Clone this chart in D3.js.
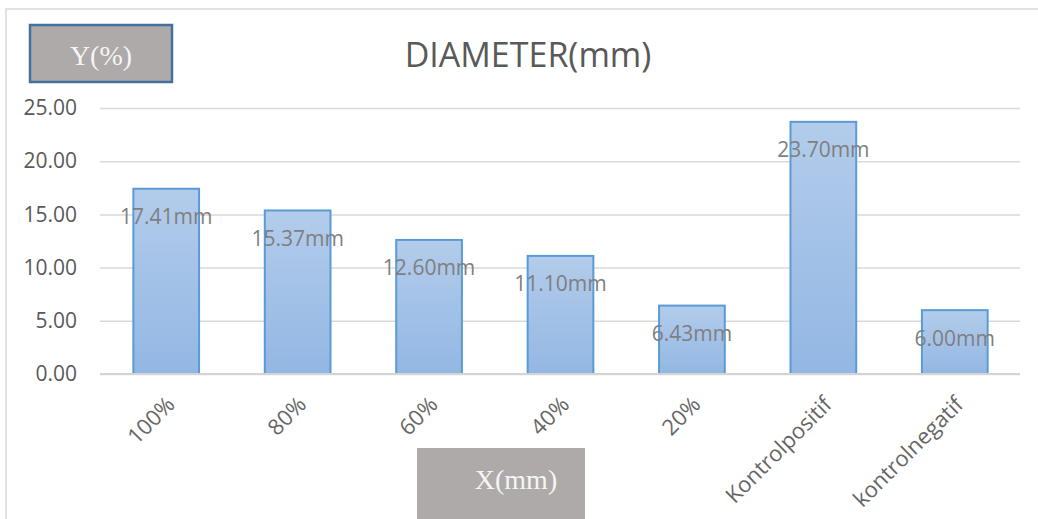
<!DOCTYPE html>
<html><head><meta charset="utf-8">
<script src="https://cdn.jsdelivr.net/npm/d3@7"></script>
<style>html,body{margin:0;padding:0;background:#fff;overflow:hidden}</style>
</head><body>
<svg id="c" width="1038" height="519"></svg>
<script>
const categories = ["100%","80%","60%","40%","20%","Kontrolpositif","kontrolnegatif"];
const values = [17.41, 15.37, 12.60, 11.10, 6.43, 23.70, 6.00];
const yTicks = [0, 5, 10, 15, 20, 25];
const title = "DIAMETER(mm)";
const yTitle = "Y(%)";
const xTitle = "X(mm)";

const svg = d3.select("#c");
const font = "'Open Sans', sans-serif";

// outer chart frame
svg.append("rect").attr("x",6).attr("y",9).attr("width",1045).attr("height",520)
  .attr("fill","#fff").attr("stroke","#d9d9d9").attr("stroke-width",1.5);

const x = d3.scaleBand().domain(categories).range([100.5, 1020.5]).paddingInner(0.5).paddingOuter(0.25);
const y = d3.scaleLinear().domain([0, 25]).range([374, 108]);

// gradient
const defs = svg.append("defs");
const g = defs.append("linearGradient").attr("id","bg").attr("x1",0).attr("y1",0).attr("x2",0).attr("y2",1);
g.append("stop").attr("offset","0%").attr("stop-color","#b3cceb");
g.append("stop").attr("offset","100%").attr("stop-color","#93b7e3");

// gridlines
const yAxis = d3.axisLeft(y).tickValues(yTicks).tickFormat(d3.format(".2f")).tickSize(-920).tickPadding(23);
const ga = svg.append("g").attr("transform","translate(100,0)").call(yAxis);
ga.select(".domain").remove();
ga.selectAll(".tick line").attr("stroke","#d9d9d9").attr("stroke-width",1.5);
ga.selectAll(".tick text").attr("fill","#595959").style("font-family",font).style("font-size","21px");

// bars
svg.append("g").selectAll("rect").data(values).join("rect")
  .attr("x",(d,i)=>x(categories[i]))
  .attr("y",d=>y(d))
  .attr("width",x.bandwidth())
  .attr("height",d=>y(0)-y(d))
  .attr("fill","url(#bg)")
  .attr("stroke","#5b9bd5").attr("stroke-width",2);

// x axis line
const xAxis = d3.axisBottom(x).tickSize(0).tickPadding(0);
const gx = svg.append("g").attr("transform","translate(0,374)").call(xAxis);
gx.select(".domain").attr("stroke","#d4d4d4").attr("stroke-width",2).attr("d","M100,0H1020");
gx.selectAll(".tick text")
  .attr("fill","#666666").style("font-family",font).style("font-size","22px")
  .attr("text-anchor","end").attr("dy",0).attr("y",0)
  .attr("transform","translate(10,32) rotate(-45)");

// data labels
svg.append("g").selectAll("text").data(values).join("text")
  .attr("x",(d,i)=>x(categories[i]) + x.bandwidth()/2)
  .attr("y",d=>y(d)+28)
  .attr("dy","0.35em")
  .attr("text-anchor","middle")
  .attr("fill","#7f7f7f").style("font-family",font).style("font-size","21px")
  .text(d=>d3.format(".2f")(d)+"mm");

// title
svg.append("text").attr("x",528).attr("y",55).attr("dy","0.35em").attr("text-anchor","middle")
  .attr("fill","#595959").style("font-family",font).style("font-size","34px").text(title);

// Y box
svg.append("rect").attr("x",30).attr("y",25).attr("width",142).attr("height",57)
  .attr("fill","#aeaaaa").attr("stroke","#41719c").attr("stroke-width",2.5);
svg.append("text").attr("x",101).attr("y",55).attr("dy","0.35em").attr("text-anchor","middle")
  .attr("fill","#f5f5f5").style("font-family","'Liberation Serif', serif").style("font-size","28px").text(yTitle);

// X box
svg.append("rect").attr("x",417).attr("y",448).attr("width",168).attr("height",80)
  .attr("fill","#aeaaaa");
svg.append("text").attr("x",516).attr("y",479).attr("dy","0.35em").attr("text-anchor","middle")
  .attr("fill","#f5f5f5").style("font-family","'Liberation Serif', serif").style("font-size","28px").text(xTitle);
</script>
</body></html>
